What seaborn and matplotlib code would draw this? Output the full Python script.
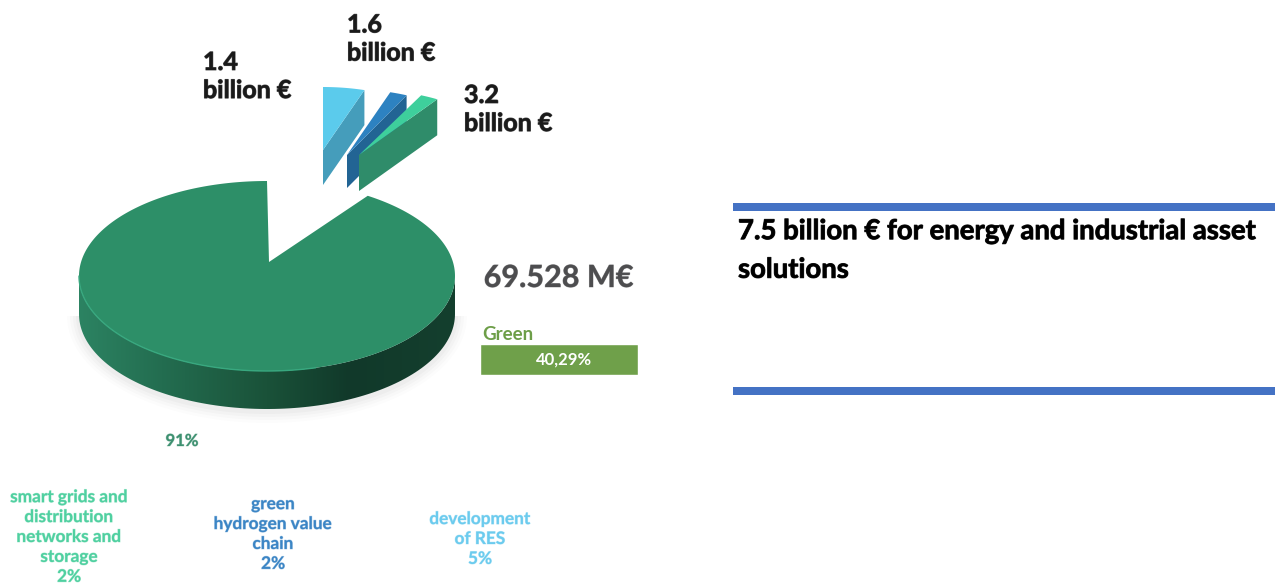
import numpy as np
import matplotlib
matplotlib.use("Agg")
import matplotlib.pyplot as plt
import matplotlib.patheffects as pe
from matplotlib.colors import LinearSegmentedColormap
from matplotlib.patches import Polygon, Rectangle
import seaborn as sns

# Investment split of the 7.5 billion euro envelope
shares = [91, 2, 2, 5]
slice_names = ["total", "smart grids", "hydrogen", "RES"]
amount_labels = ["3.2\nbillion €", "1.6\nbillion €", "1.4\nbillion €"]
category_labels = ["smart grids and\ndistribution\nnetworks and\nstorage\n2%",
                   "green\nhydrogen value\nchain\n2%",
                   "development\nof RES\n5%"]
green_share = 40.29
green_label = "40,29%"
total_label = "69.528 M€"
headline = "7.5 billion € for energy and industrial asset\nsolutions"

sns.set_theme(style="white")
top_colors = sns.color_palette(["#2d8f68", "#3ecf9c", "#2d82c1", "#5bcbec"])
side_colors = sns.color_palette(["#1a5239", "#2f8c6a", "#226494", "#459dbb"])
label_colors = ["#4fd0a0", "#3b85c5", "#6bcbee"]

fig = plt.figure(figsize=(12.75, 5.83), dpi=100, facecolor="white")
ax = fig.add_axes([0, 0, 1, 1])

# The pie supplies the slice angles; the tilted faces are then built from them
wedges, _ = ax.pie(shares, startangle=90, radius=1, colors=top_colors)
angles = [(w.theta1, w.theta2) for w in wedges]
for w in wedges:
    w.remove()
ax.set_aspect("auto")
ax.set_xlim(0, 1275)
ax.set_ylim(583, 0)
ax.axis("off")


def rim(t1, t2, cx, cy, rx, ry, n=120):
    t = np.radians(np.linspace(t1, t2, n))
    return np.column_stack([cx + rx * np.cos(t), cy - ry * np.sin(t)])


def soft(color, width=0.7, alpha=0.35):
    return [pe.withStroke(linewidth=width, foreground=color, alpha=alpha)]


# Main disc
cx, cy, rx, ry, depth = 267, 276, 188, 95, 38

# Faint shadow under the front of the disc
for grow, alpha in [(12, .012), (9, .016), (6, .02), (3, .025)]:
    ax.add_patch(Polygon(rim(180, 360, cx, cy + depth + 2, rx + grow, ry + grow),
                         closed=True, fc="black", ec="none", alpha=alpha, zorder=1))

lower = rim(180, 360, cx, cy, rx, ry)
wall = np.vstack([lower, (lower + [0, depth])[::-1]])
wall_patch = Polygon(wall, closed=True, fc="none", ec="none", zorder=2)
ax.add_patch(wall_patch)
wall_cmap = LinearSegmentedColormap.from_list(
    "wall", [(0, "#2c8362"), (.22, "#236d50"), (.5, "#1a5239"),
             (.72, "#11392a"), (1, "#143f2e")])
img = ax.imshow(np.linspace(0, 1, 256)[None, :], cmap=wall_cmap, aspect="auto",
                extent=(cx - rx, cx + rx, cy + ry + depth, cy - 5), zorder=2)
img.set_clip_path(wall_patch)
ax.set_xlim(0, 1275)
ax.set_ylim(583, 0)

main_rim = rim(*angles[0], cx, cy, rx, ry, 300)
ax.add_patch(Polygon(np.vstack([main_rim, [[269, 262]]]), closed=True,
                     fc=top_colors[0], ec="none", zorder=3))
edge = rim(180, 285, cx, cy, rx, ry)
ax.plot(edge[:, 0], edge[:, 1], color="#38a87f", lw=1.0, zorder=4)

# Pulled-out slices: apex x, apex y, horizontal and vertical reach, thickness
placement = {1: (359, 155, 146, 66, 36), 2: (347, 155, 140, 66, 33), 3: (323, 150, 134, 63, 35)}
for i, (ax0, ay0, prx, pry, d) in placement.items():
    t1, t2 = angles[i]
    arc = rim(t1, t2, ax0, ay0, prx, pry, 20)
    outer = arc[0]
    ax.add_patch(Polygon([outer, [ax0, ay0], [ax0, ay0 + d], outer + [0, d]], closed=True,
                         fc=side_colors[i], ec="none", zorder=9 - i))
    ax.add_patch(Polygon(np.vstack([arc, [[ax0, ay0]]]), closed=True,
                         fc=top_colors[i], ec="none", zorder=9 - i))

# Amount call-outs
for text, x, y in zip(amount_labels, [464, 347, 203], [109.5, 39, 76.5]):
    ax.text(x, y, text, family="Lato", weight="bold", fontsize=18, color="#1a1a1a",
            ha="left", va="center", linespacing=1.27, zorder=10,
            path_effects=soft("#1a1a1a", 0.8, 0.7))

ax.text(182, 441, "91%", family="Lato", weight="bold", fontsize=12, color="#3d9070",
        ha="center", va="center", path_effects=soft("#3d9070"))
for text, x, y, color in zip(category_labels, [69, 273, 480], [537, 534, 539], label_colors):
    ax.text(x, y, text, family="Lato", weight="bold", fontsize=12.4, color=color,
            ha="center", va="center", linespacing=1.3, path_effects=soft(color))

# Right-hand key figures
ax.text(558.5, 278, total_label, family="Lato", weight="bold", fontsize=22,
        color="#4d4d4f", ha="center", va="center", path_effects=soft("#4d4d4f", 0.6, 0.5))
ax.text(482, 334, "Green", family="Lato", weight="bold", fontsize=13.5, color="#6d9e48",
        ha="left", va="center")

bar_ax = fig.add_axes([480 / 1275, 1 - 375 / 583, 158 / 1275, 31 / 583])
sns.barplot(x=[green_share], y=["Green"], color="#6fa04a", saturation=1, width=1, ax=bar_ax)
bar_ax.set_xlim(0, green_share)
bar_ax.set_ylim(.5, -.5)
bar_ax.axis("off")
bar_ax.text(.53, .5, green_label, transform=bar_ax.transAxes, family="Lato", weight="bold",
            fontsize=12, color="white", ha="center", va="center")

# Headline panel
for y0, y1 in [(203, 211), (387, 395)]:
    ax.add_patch(Rectangle((733, y0), 542, y1 - y0, fc="#4472c4", ec="none"))
ax.text(738, 250.5, headline, family="Lato", weight="bold", fontsize=19.8, color="black",
        ha="left", va="center", linespacing=1.6, path_effects=soft("black", 0.7, 0.8))

fig.savefig("out.png", dpi=100, facecolor="white")
